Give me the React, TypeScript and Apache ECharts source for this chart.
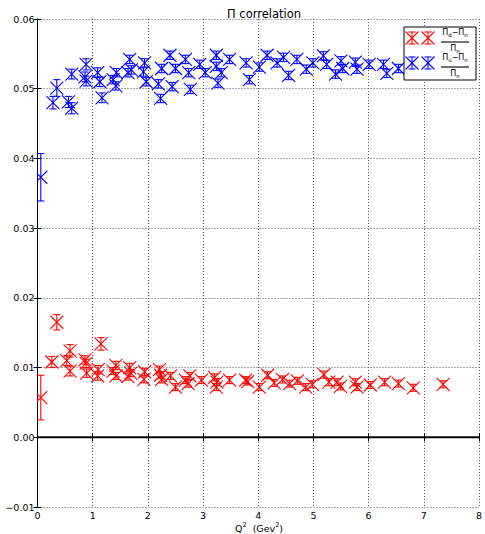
import React, { useEffect, useRef } from "react";
import * as echarts from "echarts";

// (Π_d − Π_n) / Π_n
const redQ = [0.06, 0.26, 0.35, 0.53, 0.59, 0.59, 0.86, 0.88, 0.89, 1.09, 1.10, 1.15, 1.37, 1.42, 1.42, 1.64, 1.67, 1.69, 1.93, 1.94, 2.21, 2.23, 2.25, 2.41, 2.50, 2.68, 2.73, 2.76, 2.97, 3.21, 3.24, 3.25, 3.48, 3.77, 3.81, 4.02, 4.17, 4.29, 4.44, 4.57, 4.71, 4.86, 4.98, 5.19, 5.28, 5.43, 5.49, 5.76, 5.79, 6.03, 6.29, 6.54, 6.81, 7.35];
const redVal = [0.0057, 0.0108, 0.0165, 0.0110, 0.0124, 0.0095, 0.0111, 0.0106, 0.0092, 0.0088, 0.0097, 0.0134, 0.0095, 0.0103, 0.0088, 0.0087, 0.0100, 0.0092, 0.0083, 0.0094, 0.0097, 0.0089, 0.0083, 0.0088, 0.0072, 0.0082, 0.0077, 0.0088, 0.0082, 0.0086, 0.0072, 0.0079, 0.0082, 0.0082, 0.0080, 0.0072, 0.0089, 0.0078, 0.0083, 0.0077, 0.0081, 0.0072, 0.0076, 0.0090, 0.0079, 0.0079, 0.0073, 0.0079, 0.0072, 0.0075, 0.0079, 0.0077, 0.0071, 0.0076];
const redErr = [0.0032, 0.0008, 0.0011, 0.0007, 0.0009, 0.0007, 0.0006, 0.0006, 0.0006, 0.0006, 0.0006, 0.0009, 0.0005, 0.0006, 0.0005, 0.0005, 0.0006, 0.0005, 0.0005, 0.0005, 0.0005, 0.0005, 0.0005, 0.0005, 0.0005, 0.0005, 0.0005, 0.0005, 0.0005, 0.0005, 0.0005, 0.0005, 0.0005, 0.0005, 0.0005, 0.0005, 0.0005, 0.0005, 0.0005, 0.0005, 0.0005, 0.0005, 0.0005, 0.0005, 0.0005, 0.0005, 0.0005, 0.0005, 0.0005, 0.0005, 0.0005, 0.0005, 0.0005, 0.0005];

// (Π_u − Π_n) / Π_n
const blueQ = [0.06, 0.28, 0.35, 0.56, 0.62, 0.62, 0.86, 0.88, 0.88, 1.09, 1.13, 1.17, 1.37, 1.42, 1.43, 1.64, 1.67, 1.70, 1.92, 1.94, 1.97, 2.19, 2.23, 2.25, 2.40, 2.44, 2.50, 2.68, 2.74, 2.77, 2.94, 3.04, 3.24, 3.24, 3.27, 3.33, 3.48, 3.78, 3.84, 4.02, 4.16, 4.34, 4.46, 4.55, 4.70, 4.87, 4.99, 5.18, 5.24, 5.40, 5.50, 5.53, 5.76, 5.79, 6.01, 6.27, 6.33, 6.54, 6.81, 7.35];
const blueVal = [0.0373, 0.0480, 0.0501, 0.0481, 0.0472, 0.0521, 0.0517, 0.0535, 0.0511, 0.0523, 0.0510, 0.0487, 0.0513, 0.0504, 0.0523, 0.0523, 0.0542, 0.0527, 0.0524, 0.0537, 0.0510, 0.0507, 0.0486, 0.0529, 0.0548, 0.0503, 0.0529, 0.0542, 0.0523, 0.0499, 0.0535, 0.0523, 0.0548, 0.0532, 0.0508, 0.0523, 0.0542, 0.0537, 0.0513, 0.0531, 0.0548, 0.0537, 0.0545, 0.0519, 0.0542, 0.0528, 0.0537, 0.0547, 0.0535, 0.0521, 0.0540, 0.0529, 0.0538, 0.0528, 0.0535, 0.0535, 0.0522, 0.0529, 0.0535, 0.0530];
const blueErr = [0.0034, 0.0009, 0.0012, 0.0008, 0.0008, 0.0007, 0.0007, 0.0008, 0.0007, 0.0007, 0.0007, 0.0007, 0.0006, 0.0006, 0.0006, 0.0006, 0.0006, 0.0006, 0.0006, 0.0006, 0.0006, 0.0006, 0.0006, 0.0006, 0.0006, 0.0006, 0.0006, 0.0006, 0.0006, 0.0006, 0.0006, 0.0006, 0.0006, 0.0006, 0.0006, 0.0006, 0.0006, 0.0006, 0.0006, 0.0006, 0.0006, 0.0006, 0.0006, 0.0006, 0.0006, 0.0006, 0.0006, 0.0006, 0.0006, 0.0006, 0.0006, 0.0006, 0.0006, 0.0006, 0.0006, 0.0006, 0.0006, 0.0006, 0.0006, 0.0006];

const FONT = "DejaVu Sans";
const RED = "#ff0000";
const BLUE = "#0000ff";
const HALF = 6.5; // half-size of the x marker
const CAP = 3.5; // half-width of error-bar caps

// Capped error bar plus the two strokes of the x marker
function glyphSegments(cx: number, cy: number, yTop: number, yBot: number) {
  return [
    [cx, yTop, cx, yBot],
    [cx - CAP, yTop, cx + CAP, yTop],
    [cx - CAP, yBot, cx + CAP, yBot],
    [cx - HALF, cy - HALF, cx + HALF, cy + HALF],
    [cx - HALF, cy + HALF, cx + HALF, cy - HALF],
  ];
}

function segEl(s: number[], color: string, z?: number) {
  const el: any = {
    type: "line",
    shape: { x1: s[0], y1: s[1], x2: s[2], y2: s[3] },
    style: { stroke: color, lineWidth: 1.1, fill: "none" },
  };
  if (z !== undefined) el.z = z;
  return el;
}

function pointRenderer(color: string) {
  return (_params: any, api: any) => {
    const x = api.value(0);
    const y = api.value(1);
    const e = api.value(2);
    const c = api.coord([x, y]);
    const top = api.coord([x, y + e])[1];
    const bot = api.coord([x, y - e])[1];
    return {
      type: "group",
      children: glyphSegments(c[0], c[1], top, bot).map((s) => segEl(s, color)),
    };
  };
}

const fracRich = {
  p: { fontSize: 8, fontFamily: FONT, fill: "#000", color: "#000", lineHeight: 11, verticalAlign: "middle" },
  s: { fontSize: 5.5, fontFamily: FONT, fill: "#000", color: "#000", lineHeight: 6, verticalAlign: "bottom" },
};

function legendFraction(sub: string, cy: number) {
  const left = 441;
  const right = 469;
  const mid = (left + right) / 2;
  return [
    {
      type: "text",
      x: mid,
      y: cy - 6,
      z: 101,
      style: {
        text: `{p|Π}{s|${sub}}{p|−Π}{s|n}`,
        rich: fracRich,
        fill: "#000",
        align: "center",
        verticalAlign: "middle",
      },
    },
    segEl([left, cy + 4, right, cy + 4], "#000", 101),
    {
      type: "text",
      x: mid,
      y: cy + 10,
      z: 101,
      style: {
        text: "{p|Π}{s|n}",
        rich: fracRich,
        fill: "#000",
        align: "center",
        verticalAlign: "middle",
      },
    },
  ];
}

function legendEntry(cy: number, color: string, sub: string) {
  const marks = [412, 428].flatMap((cx) =>
    glyphSegments(cx, cy, cy - 6, cy + 6).map((s) => segEl(s, color, 101))
  );
  return [...marks, ...legendFraction(sub, cy)];
}

function pointSeries(q: number[], v: number[], e: number[], color: string, name: string) {
  return {
    type: "custom",
    name,
    data: q.map((x, i) => [x, v[i], e[i]]),
    renderItem: pointRenderer(color),
    clip: true,
    silent: true,
    emphasis: { disabled: true },
    z: 4,
  };
}

export default function App() {
  const ref = useRef<HTMLDivElement>(null);

  useEffect(() => {
    if (!ref.current) return;
    const chart = echarts.init(ref.current, null, { renderer: "svg" });

    const axisLine = { show: true, lineStyle: { color: "#000", width: 1 } };
    const tick = { show: true, inside: true, length: 4, lineStyle: { color: "#000" } };
    const grid = { show: true, lineStyle: { color: "#555", type: [1, 2] as any, width: 1 } };

    chart.setOption({
      animation: false,
      backgroundColor: "#fff",
      textStyle: { fontFamily: FONT },
      title: {
        text: "Π correlation",
        left: 259,
        top: 3,
        textAlign: "center",
        textStyle: { fontSize: 11.5, fontWeight: "normal", color: "#000", fontFamily: FONT },
      },
      grid: { left: 37.5, top: 19, width: 443.5, height: 488, containLabel: false },
      xAxis: [
        {
          type: "value",
          min: 0,
          max: 8,
          interval: 1,
          axisLine,
          axisTick: tick,
          splitLine: grid,
          axisLabel: { color: "#000", fontSize: 9.5, fontFamily: FONT, margin: 3 },
        },
        {
          type: "value",
          position: "top",
          min: 0,
          max: 8,
          interval: 1,
          axisLine,
          axisTick: tick,
          splitLine: { show: false },
          axisLabel: { show: false },
        },
      ],
      yAxis: [
        {
          type: "value",
          min: -0.01,
          max: 0.06,
          interval: 0.01,
          axisLine,
          axisTick: tick,
          splitLine: grid,
          axisLabel: {
            color: "#000",
            fontSize: 9.5,
            fontFamily: FONT,
            margin: 3,
            formatter: (v: number) => v.toFixed(2).replace("-", "−"),
          },
        },
        {
          type: "value",
          position: "right",
          min: -0.01,
          max: 0.06,
          interval: 0.01,
          axisLine,
          axisTick: tick,
          splitLine: { show: false },
          axisLabel: { show: false },
        },
      ],
      series: [
        {
          type: "line",
          data: [
            [0, 0],
            [8, 0],
          ],
          symbol: "none",
          lineStyle: { color: "#000", width: 2 },
          z: 3,
          silent: true,
        },
        pointSeries(redQ, redVal, redErr, RED, "d"),
        pointSeries(blueQ, blueVal, blueErr, BLUE, "u"),
      ],
      graphic: [
        {
          type: "rect",
          shape: { x: 404, y: 27, width: 72, height: 53 },
          style: { fill: "#fff", stroke: "#000", lineWidth: 1 },
          z: 100,
        },
        ...legendEntry(38, RED, "d"),
        ...legendEntry(63, BLUE, "u"),
        {
          type: "text",
          x: 259,
          y: 527,
          z: 100,
          style: {
            text: "{n|Q}{t|2}{n|  (Gev}{t|2}{n|)}",
            align: "center",
            verticalAlign: "middle",
            rich: {
              n: { fontSize: 9.5, fontFamily: FONT, fill: "#000", lineHeight: 12, verticalAlign: "bottom" },
              t: { fontSize: 6.5, fontFamily: FONT, fill: "#000", lineHeight: 12, verticalAlign: "top" },
            },
          },
        },
      ],
    });

    return () => chart.dispose();
  }, []);

  return (
    <div
      ref={ref}
      style={{ position: "fixed", left: 0, top: 0, width: 485, height: 534, background: "#fff" }}
    />
  );
}
